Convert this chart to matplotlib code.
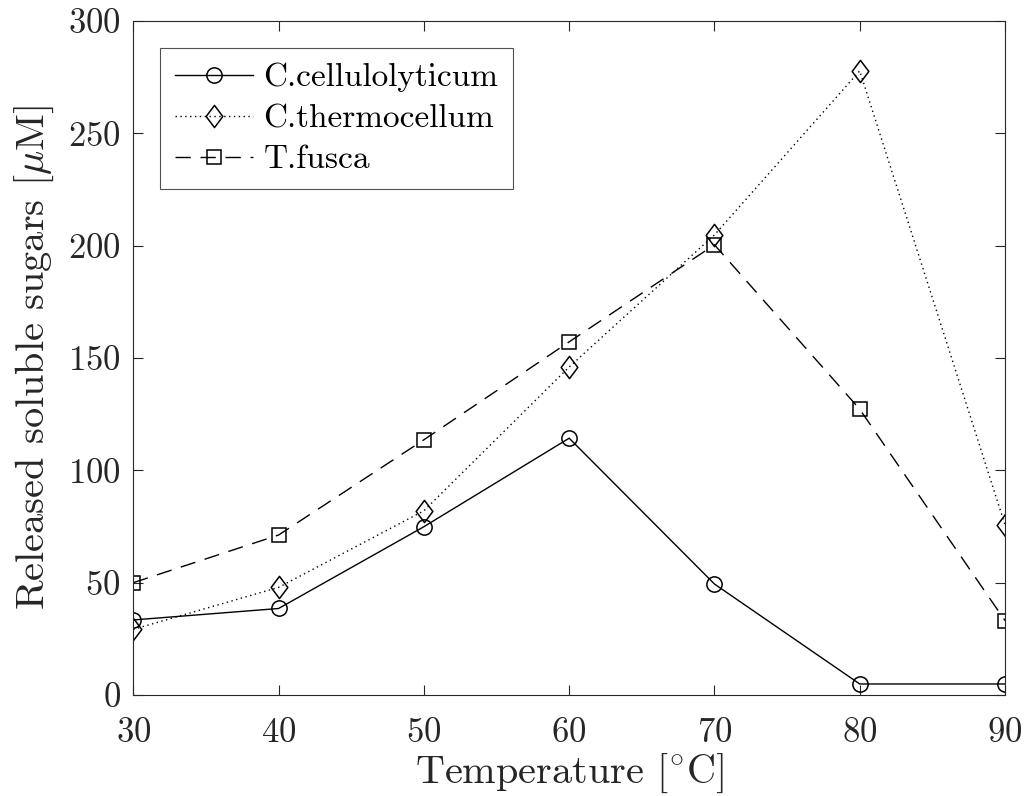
import matplotlib
matplotlib.use('Agg')
import matplotlib.pyplot as plt
from matplotlib.path import Path

plt.rcParams['font.family'] = 'serif'
plt.rcParams['font.serif'] = ['cmr10']
plt.rcParams['mathtext.fontset'] = 'cm'
plt.rcParams['axes.formatter.use_mathtext'] = True

temperature = [30, 40, 50, 60, 70, 80, 90]  # [deg C]
c_cellulolyticum = [33.4, 38.5, 74.9, 114.3, 49.4, 4.9, 4.9]
c_thermocellum = [29.2, 47.9, 82.0, 146.0, 204.8, 277.8, 75.7]
t_fusca = [50.0, 71.2, 113.6, 157.2, 200.4, 127.2, 33.1]

# taller-than-wide diamond marker
diamond = Path([(0, 1), (0.75, 0), (0, -1), (-0.75, 0), (0, 1)],
               [Path.MOVETO, Path.LINETO, Path.LINETO, Path.LINETO, Path.CLOSEPOLY])

grey = '#262626'

fig = plt.figure(figsize=(10.27, 7.96), dpi=100)
ax = fig.add_axes([0.1298, 0.1269, 0.8488, 0.8467])

ax.plot(temperature, c_cellulolyticum, 'k-', marker='o', ms=11, mfc='none',
        mew=1.1, lw=1.0, label='C.cellulolyticum')
ax.plot(temperature, c_thermocellum, 'k', ls=(0, (1, 2.5)), marker=diamond, ms=16,
        mfc='none', mew=1.1, lw=1.0, label='C.thermocellum')
ax.plot(temperature, t_fusca, 'k', ls=(0, (11, 7)), marker='s', ms=9.5, mfc='none',
        mew=1.1, lw=1.0, label='T.fusca')

ax.set_xlim(30, 90)
ax.set_ylim(0, 300)
ax.set_xticks(range(30, 91, 10))
ax.set_yticks(range(0, 301, 50))

ax.tick_params(direction='in', top=True, right=True, length=7, width=0.8,
               labelsize=25, colors=grey, labelcolor=grey)
ax.tick_params(axis='x', pad=16)
ax.tick_params(axis='y', pad=9)
for s in ax.spines.values():
    s.set_color(grey)
    s.set_linewidth(0.8)

ax.set_xlabel(r'Temperature [$^{\circ}$C]', fontsize=29, color=grey, labelpad=2)
ax.set_ylabel(r'Released soluble sugars [$\mu$M]', fontsize=29, color=grey, labelpad=9)

leg = ax.legend(loc='upper left', fontsize=24, frameon=True, fancybox=False,
                handlelength=2.35, handletextpad=0.3, borderpad=0.45,
                labelspacing=0.35, borderaxespad=0.8)
leg.get_frame().set_edgecolor(grey)
leg.get_frame().set_linewidth(0.8)

fig.savefig('out.png', dpi=100)
